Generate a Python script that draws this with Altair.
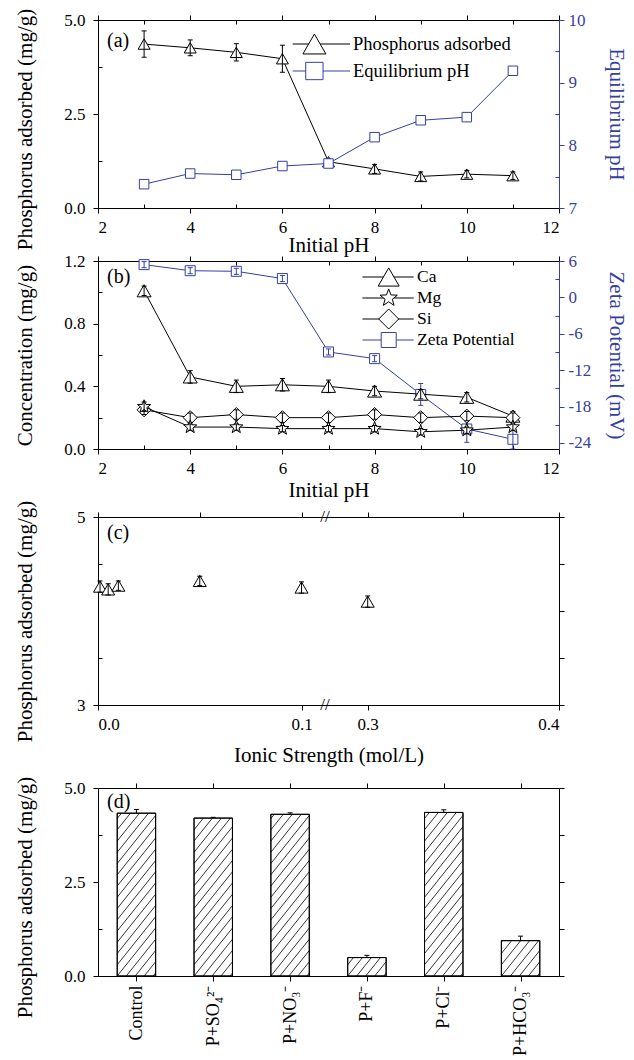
import math
import altair as alt
import pandas as pd

FONT = "Liberation Serif"
BLUE = "#3440a0"
W, H = 461, 188

# ---------------- data ----------------
init_ph = [3, 4, 5, 6, 7, 8, 9, 10, 11]
p_adsorbed = [4.36, 4.26, 4.14, 3.97, 1.23, 1.04, 0.84, 0.90, 0.86]
p_adsorbed_err = [0.35, 0.21, 0.23, 0.36, 0.08, 0.12, 0.12, 0.10, 0.10]
equil_ph = [7.38, 7.55, 7.53, 7.67, 7.71, 8.13, 8.40, 8.45, 9.19]

ca = [1.01, 0.46, 0.40, 0.41, 0.40, 0.37, 0.35, 0.33, 0.21]
ca_err = [0.03, 0.04, 0.04, 0.04, 0.04, 0.03, 0.03, 0.03, 0.03]
mg = [0.27, 0.14, 0.14, 0.13, 0.13, 0.13, 0.11, 0.12, 0.14]
mg_err = [0.03, 0.02, 0.02, 0.02, 0.02, 0.02, 0.02, 0.02, 0.02]
si = [0.25, 0.20, 0.22, 0.20, 0.20, 0.22, 0.20, 0.21, 0.20]
si_err = [0.03, 0.03, 0.03, 0.03, 0.03, 0.03, 0.03, 0.03, 0.03]
zeta = [5.4, 4.4, 4.3, 3.1, -9.0, -10.1, -16.0, -21.7, -23.4]
zeta_err = [0.5, 0.5, 0.5, 0.5, 0.5, 0.5, 1.8, 2.2, 1.6]

ionic_strength = [0.001, 0.005, 0.01, 0.05, 0.1, 0.3]
ionic_p = [4.26, 4.23, 4.27, 4.32, 4.25, 4.10]
ionic_err = [0.06, 0.06, 0.05, 0.05, 0.06, 0.06]

anions = ["Control", "P+SO\u2084\u00b2\u207b", "P+NO\u2083\u207b", "P+F\u207b", "P+Cl\u207b", "P+HCO\u2083\u207b"]
anion_p = [4.33, 4.20, 4.30, 0.49, 4.35, 0.94]
anion_err = [0.10, 0.02, 0.04, 0.06, 0.07, 0.12]


# ---------------- helpers ----------------
def ax(**kw):
    base = dict(labelFont=FONT, titleFont=FONT, labelFontSize=17, titleFontSize=21,
                titleFontWeight="normal", grid=False, tickSize=5, labelPadding=6,
                domainColor="black", tickColor="black", labelColor="black",
                titleColor="black")
    base.update(kw)
    return alt.Axis(**base)


def minor(orient, values, offset, color="black"):
    # tick-only axis moved onto the opposite frame edge, so its ticks point inward
    return alt.Axis(orient=orient, values=values, offset=offset, labels=False, domain=False,
                    title=None, grid=False, tickSize=4, tickColor=color)


def star_path(inner=0.42):
    pts = []
    for k in range(10):
        r = 1.0 if k % 2 == 0 else inner
        a = math.radians(-90 + 36 * k)
        pts.append(f"{r * math.cos(a):.3f},{r * math.sin(a):.3f}")
    return "M" + "L".join(pts) + "Z"


STAR = star_path()


def data_layers(df, xf, yf, xs, ys, color, shape, size, ef=None, line=True):
    base = alt.Chart(df).encode(x=alt.X(f"{xf}:Q", scale=xs, axis=None))
    out = []
    if line:
        out.append(base.mark_line(color=color, strokeWidth=1).encode(
            y=alt.Y(f"{yf}:Q", scale=ys, axis=None)))
    out.append(base.mark_point(shape=shape, size=size, filled=True, fill="white",
                               stroke=color, strokeWidth=1, opacity=1).encode(
        y=alt.Y(f"{yf}:Q", scale=ys, axis=None)))
    if ef:
        eb = base.transform_calculate(lo=f"datum.{yf} - datum.{ef}",
                                      hi=f"datum.{yf} + datum.{ef}")
        out.append(eb.mark_rule(color=color, strokeWidth=1).encode(
            y=alt.Y("lo:Q", scale=ys, axis=None), y2="hi:Q"))
        for f in ("lo", "hi"):
            out.append(eb.mark_tick(color=color, orient="horizontal", size=5,
                                    thickness=1, opacity=1).encode(
                y=alt.Y(f"{f}:Q", scale=ys, axis=None)))
    return out


def legend_entry(label, y, x0, x1, xs, xt, shape, size, color, fs):
    c = alt.Chart(pd.DataFrame({"label": [label]}))
    return [
        c.mark_rule(color=color, strokeWidth=1).encode(
            x=alt.value(x0), x2=alt.value(x1), y=alt.value(y)),
        c.mark_point(shape=shape, size=size, filled=True, fill="white", stroke=color,
                     strokeWidth=1, opacity=1).encode(x=alt.value(xs), y=alt.value(y)),
        c.mark_text(align="left", baseline="middle", font=FONT, fontSize=fs,
                    color="black").encode(x=alt.value(xt), y=alt.value(y), text="label:N"),
    ]


def panel_label(text, y):
    return alt.Chart(pd.DataFrame({"t": [text]})).mark_text(
        align="left", baseline="middle", font=FONT, fontSize=20, color="black"
    ).encode(x=alt.value(9), y=alt.value(y), text="t:N")


def spacer(h):
    return alt.Chart(pd.DataFrame({"s": [0]})).mark_point(opacity=0).encode(
        x=alt.value(0), y=alt.value(0)
    ).properties(width=W, height=h, view=alt.ViewBackground(strokeOpacity=0))


def minor_layers(df, xf, xs, xvals, yf, ys, yvals, ycolor="black", both_x=True):
    c = alt.Chart(df).mark_point(opacity=0)
    out = []
    if xvals:
        out.append(c.encode(x=alt.X(f"{xf}:Q", scale=xs, axis=minor("top", xvals, -H)),
                            y=alt.Y(f"{yf}:Q", scale=ys, axis=None)))
        if both_x:
            out.append(c.encode(x=alt.X(f"{xf}:Q", scale=xs, axis=minor("bottom", xvals, -H)),
                                y=alt.Y(f"{yf}:Q", scale=ys, axis=None)))
    if yvals:
        out.append(c.encode(x=alt.X(f"{xf}:Q", scale=xs, axis=None),
                            y=alt.Y(f"{yf}:Q", scale=ys, axis=minor("right", yvals, -W))))
    return out


def minor_right(df, xf, xs, yf, ys, yvals, color):
    c = alt.Chart(df).mark_point(opacity=0)
    return [c.encode(x=alt.X(f"{xf}:Q", scale=xs, axis=None),
                     y=alt.Y(f"{yf}:Q", scale=ys, axis=minor("left", yvals, -W, color)))]


# ---------------- panel (a) ----------------
df_a = pd.DataFrame({"ph": init_ph, "p": p_adsorbed, "perr": p_adsorbed_err, "eq": equil_ph})
xs_ph = alt.Scale(domain=[2, 12], nice=False)
ys_p = alt.Scale(domain=[0, 5], nice=False)
ys_eq = alt.Scale(domain=[7, 10], nice=False)
ph_ticks = [2, 4, 6, 8, 10, 12]
ph_minor = [3, 5, 7, 9, 11]

carrier_a = alt.Chart(df_a).mark_point(opacity=0).encode(
    x=alt.X("ph:Q", scale=xs_ph, axis=ax(orient="bottom", values=ph_ticks, title="Initial pH",
                                         titleY=26, titleBaseline="top")),
    y=alt.Y("p:Q", scale=ys_p, axis=ax(orient="left", values=[0, 2.5, 5], format=".1f",
                                       labelPadding=8,
                                       title="Phosphorus adsorbed (mg/g)", titleX=-63,
                                       titleY=H / 2 + 15, titleBaseline="bottom")))
top_a = alt.Chart(df_a).mark_point(opacity=0).encode(
    x=alt.X("ph:Q", scale=xs_ph, axis=ax(orient="top", values=ph_ticks, labels=False, title=None)),
    y=alt.Y("p:Q", scale=ys_p, axis=None))
carrier_a2 = alt.Chart(df_a).mark_point(opacity=0).encode(
    x=alt.X("ph:Q", scale=xs_ph, axis=None),
    y=alt.Y("eq:Q", scale=ys_eq, axis=ax(orient="right", values=[7, 8, 9, 10], labelPadding=4,
                                         labelColor=BLUE, tickColor=BLUE, domainColor=BLUE,
                                         titleColor=BLUE, title="Equilibrium pH", titleX=46,
                                         titleY=H / 2, titleBaseline="bottom")))

leg_a = (legend_entry("Phosphorus adsorbed", 24, 194.6, 252, 216.4, 255, "triangle-up", 529, "black", 18.5)
         + legend_entry("Equilibrium pH", 51, 194.6, 252, 216.4, 255, "square", 300, BLUE, 18.5))

panel_a = alt.layer(
    carrier_a, top_a, carrier_a2,
    *minor_layers(df_a, "ph", xs_ph, ph_minor, "p", ys_p, [1.25, 3.75]),
    *minor_right(df_a, "ph", xs_ph, "eq", ys_eq, [7.5, 8.5, 9.5], BLUE),
    *data_layers(df_a, "ph", "p", xs_ph, ys_p, "black", "triangle-up", 144, "perr"),
    *data_layers(df_a, "ph", "eq", xs_ph, ys_eq, BLUE, "square", 90),
    *leg_a, panel_label("(a)", 21),
).resolve_scale(y="independent").resolve_axis(x="independent", y="independent").properties(
    width=W, height=H)

# ---------------- panel (b) ----------------
df_b = pd.DataFrame({"ph": init_ph, "ca": ca, "caerr": ca_err, "mg": mg, "mgerr": mg_err,
                     "si": si, "sierr": si_err, "z": zeta, "zerr": zeta_err})
ys_c = alt.Scale(domain=[0, 1.2], nice=False)
ys_z = alt.Scale(domain=[-25, 6], nice=False)

carrier_b = alt.Chart(df_b).mark_point(opacity=0).encode(
    x=alt.X("ph:Q", scale=xs_ph, axis=ax(orient="bottom", values=ph_ticks, title="Initial pH",
                                         titleY=30, titleBaseline="top")),
    y=alt.Y("ca:Q", scale=ys_c, axis=ax(orient="left", values=[0, 0.4, 0.8, 1.2], format=".1f",
                                        labelPadding=8,
                                        title="Concentration (mg/g)", titleX=-63,
                                        titleY=H / 2, titleBaseline="bottom")))
top_b = alt.Chart(df_b).mark_point(opacity=0).encode(
    x=alt.X("ph:Q", scale=xs_ph, axis=ax(orient="top", values=ph_ticks, labels=False, title=None)),
    y=alt.Y("ca:Q", scale=ys_c, axis=None))
carrier_b2 = alt.Chart(df_b).mark_point(opacity=0).encode(
    x=alt.X("ph:Q", scale=xs_ph, axis=None),
    y=alt.Y("z:Q", scale=ys_z, axis=ax(orient="right", values=[-24, -18, -12, -6, 0, 6],
                                       labelExpr="'' + datum.value",
                                       labelPadding=4,
                                       labelColor=BLUE, tickColor=BLUE, domainColor=BLUE,
                                       titleColor=BLUE, title="Zeta Potential (mV)", titleX=46,
                                       titleY=H / 2, titleBaseline="bottom")))

leg_b = (legend_entry("Ca", 16, 264.4, 315.7, 290.7, 319, "triangle-up", 441, "black", 17.5)
         + legend_entry("Mg", 37, 264.4, 315.7, 290.7, 319, STAR, 330, "black", 17.5)
         + legend_entry("Si", 58, 264.4, 315.7, 290.7, 319, "diamond", 400, "black", 17.5)
         + legend_entry("Zeta Potential", 79, 264.4, 315.7, 290.7, 319, "square", 225, BLUE, 17.5))

panel_b = alt.layer(
    carrier_b, top_b, carrier_b2,
    *minor_layers(df_b, "ph", xs_ph, ph_minor, "ca", ys_c, [0.2, 0.6, 1.0]),
    *minor_right(df_b, "ph", xs_ph, "z", ys_z, [-21, -15, -9, -3, 3], BLUE),
    *data_layers(df_b, "ph", "z", xs_ph, ys_z, BLUE, "square", 100, "zerr"),
    *data_layers(df_b, "ph", "ca", xs_ph, ys_c, "black", "triangle-up", 196, "caerr"),
    *data_layers(df_b, "ph", "si", xs_ph, ys_c, "black", "diamond", 196, "sierr"),
    *data_layers(df_b, "ph", "mg", xs_ph, ys_c, "black", STAR, 190, "mgerr"),
    *leg_b, panel_label("(b)", 16),
).resolve_scale(y="independent").resolve_axis(x="independent", y="independent").properties(
    width=W, height=H)

# ---------------- panel (c) ----------------
df_c = pd.DataFrame({"i": ionic_strength, "p": ionic_p, "perr": ionic_err})
xs_i = alt.Scale(domain=[0, 0.1, 0.2, 0.3, 0.4], range=[0, 203.5, 227, 269.7, W], nice=False)
ys_c3 = alt.Scale(domain=[3, 5], nice=False)

carrier_c = alt.Chart(df_c).mark_point(opacity=0).encode(
    x=alt.X("i:Q", scale=xs_i, axis=ax(orient="bottom", values=[0, 0.1, 0.3, 0.4], format=".1f",
                                       title="Ionic Strength (mol/L)", titleY=39,
                                       titleBaseline="top")),
    y=alt.Y("p:Q", scale=ys_c3, axis=ax(orient="left", values=[3, 4, 5], format="d",
                                        labelPadding=8,
                                        title="Phosphorus adsorbed (mg/g)", titleX=-63,
                                        titleY=H / 2 + 10, titleBaseline="bottom")))
frame_c = alt.Chart(df_c).mark_point(opacity=0).encode(
    x=alt.X("i:Q", scale=xs_i, axis=ax(orient="top", values=[0, 0.05, 0.1, 0.3, 0.35, 0.4],
                                       labels=False, title=None)),
    y=alt.Y("p:Q", scale=ys_c3, axis=ax(orient="right", values=[3, 3.5, 4, 4.5, 5],
                                        labels=False, title=None)))
brk = alt.Chart(pd.DataFrame({"b": [0.2]}))
breaks = [
    brk.mark_text(text="//", font=FONT, fontSize=17, color="black", baseline="middle").encode(
        x=alt.X("b:Q", scale=xs_i, axis=None), y=alt.value(yy))
    for yy in (0, H)
]
panel_c = alt.layer(
    carrier_c, frame_c,
    *minor_layers(df_c, "i", xs_i, [], "p", ys_c3, [3.5, 4.5]),
    *data_layers(df_c, "i", "p", xs_i, ys_c3, "black", "triangle-up", 169, "perr", line=False),
    *breaks, panel_label("(c)", 16),
).resolve_axis(x="independent", y="independent").properties(width=W, height=H)

# ---------------- panel (d) ----------------
df_d = pd.DataFrame({"pos": list(range(len(anions))), "name": anions, "p": anion_p,
                     "perr": anion_err})
xs_d = alt.Scale(domain=[-0.5, len(anions) - 0.5], nice=False)
ys_d = alt.Scale(domain=[0, 5], nice=False)

# hatch lines derived from the bar values
XPX = W / len(anions)
YPX = H / 5.0
SLOPE = 1.25
DX = 9.0
rows = []
for i, v in enumerate(anion_p):
    w = 0.5 * XPX
    h = v * YPX
    s = DX * SLOPE
    k = -int(math.ceil(SLOPE * w / s))
    while k * s <= h:
        c = k * s
        t0 = max(0.0, -c / SLOPE)
        t1 = min(w, (h - c) / SLOPE)
        if t1 > t0:
            rows.append({"hx": i - 0.25 + t0 / XPX, "hy": (c + SLOPE * t0) / YPX,
                         "hx2": i - 0.25 + t1 / XPX, "hy2": (c + SLOPE * t1) / YPX})
        k += 1
df_h = pd.DataFrame(rows)

label_expr = "[" + ",".join("'" + a + "'" for a in anions) + "][datum.value]"
carrier_d = alt.Chart(df_d).mark_point(opacity=0).encode(
    x=alt.X("pos:Q", scale=xs_d, axis=ax(orient="bottom", values=list(range(len(anions))),
                                         labelExpr=label_expr, labelAngle=270,
                                         labelFontSize=18, labelPadding=4, title=None)),
    y=alt.Y("p:Q", scale=ys_d, axis=ax(orient="left", values=[0, 2.5, 5], format=".1f",
                                       labelPadding=8,
                                       title="Phosphorus adsorbed (mg/g)", titleX=-63,
                                       titleY=H / 2 + 15, titleBaseline="bottom")))
frame_d = alt.Chart(df_d).mark_point(opacity=0).encode(
    x=alt.X("pos:Q", scale=xs_d, axis=ax(orient="top", values=list(range(len(anions))),
                                         labels=False, title=None)),
    y=alt.Y("p:Q", scale=ys_d, axis=ax(orient="right", values=[0, 1.25, 2.5, 3.75, 5],
                                       labels=False, title=None)))
bar_base = alt.Chart(df_d).transform_calculate(
    x0="datum.pos - 0.25", x1="datum.pos + 0.25", zero="0",
    hi="datum.p + datum.perr")
bars = bar_base.mark_rect(fill="white", stroke="black", strokeWidth=1).encode(
    x=alt.X("x0:Q", scale=xs_d, axis=None), x2="x1:Q",
    y=alt.Y("p:Q", scale=ys_d, axis=None), y2="zero:Q")
hatch = alt.Chart(df_h).mark_rule(color="black", strokeWidth=0.8).encode(
    x=alt.X("hx:Q", scale=xs_d, axis=None), x2="hx2:Q",
    y=alt.Y("hy:Q", scale=ys_d, axis=None), y2="hy2:Q")
outline = bar_base.mark_rect(fillOpacity=0, stroke="black", strokeWidth=1).encode(
    x=alt.X("x0:Q", scale=xs_d, axis=None), x2="x1:Q",
    y=alt.Y("p:Q", scale=ys_d, axis=None), y2="zero:Q")
err_d = bar_base.mark_rule(color="black", strokeWidth=1).encode(
    x=alt.X("pos:Q", scale=xs_d, axis=None),
    y=alt.Y("p:Q", scale=ys_d, axis=None), y2="hi:Q")
cap_d = bar_base.mark_tick(color="black", orient="horizontal", size=5, thickness=1,
                           opacity=1).encode(
    x=alt.X("pos:Q", scale=xs_d, axis=None),
    y=alt.Y("hi:Q", scale=ys_d, axis=None))
panel_d = alt.layer(
    carrier_d, frame_d,
    *minor_layers(df_d, "pos", xs_d, [], "p", ys_d, [1.25, 3.75]),
    bars, hatch, outline, err_d, cap_d, panel_label("(d)", 14),
).resolve_axis(x="independent", y="independent").properties(width=W, height=H)

# ---------------- layout ----------------
chart = alt.vconcat(
    panel_a, spacer(53), panel_b, spacer(68), panel_c, spacer(83), panel_d,
    spacing=0, bounds="flush",
).properties(
    padding={"left": 13, "top": 7, "right": 0, "bottom": 0},
    background="white",
).configure_view(stroke="black", strokeWidth=1).configure(font=FONT)

chart.save("out.html", embed_options={"renderer": "svg", "actions": False})
